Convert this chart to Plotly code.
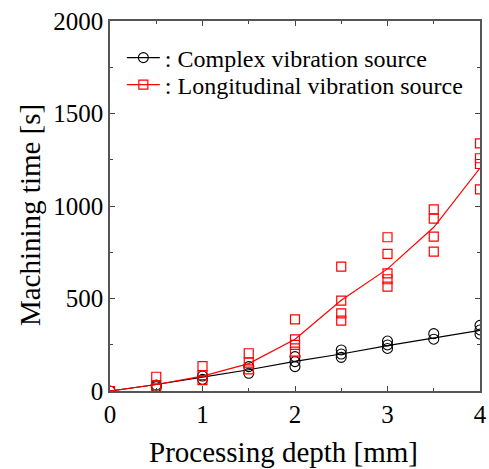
import plotly.graph_objects as go

# Data
depth_levels = [0, 0.5, 1, 1.5, 2, 2.5, 3, 3.5, 4]

complex_x = [0, 0.5, 0.5, 1, 1, 1.5, 1.5, 2, 2, 2, 2.5, 2.5, 2.5, 3, 3, 3, 3.5, 3.5, 4, 4, 4]
complex_y = [0, 32, 23, 81, 63, 132, 96, 186, 159, 132, 222, 200, 182, 270, 249, 230, 310, 280, 355, 330, 308]
complex_fit = [0, 35, 75, 115, 160, 200, 245, 285, 328]

long_x = [0, 0.5, 0.5, 0.5, 1, 1, 1, 1.5, 1.5, 1.5, 2, 2, 2, 2, 2.5, 2.5, 2.5, 2.5,
          3, 3, 3, 3, 3, 3.5, 3.5, 3.5, 3.5, 4, 4, 4, 4]
long_y = [0, 77, 32, 14, 135, 86, 59, 204, 153, 117, 387, 279, 249, 213, 672, 488, 420, 380,
          831, 741, 636, 604, 564, 982, 932, 834, 753, 1339, 1258, 1227, 1090]
long_fit = [0, 35, 80, 148, 280, 490, 660, 885, 1205]

legend_names = [": Complex vibration source", ": Longitudinal vibration source"]
x_title = "Processing depth [mm]"
y_title = "Machining time [s]"

FONT = "Liberation Serif"
RED = "#ff0000"

circle_marker = dict(symbol="circle-open", size=10, color="black",
                     line=dict(width=1.1, color="black"))
square_marker = dict(symbol="square-open", size=9, color=RED,
                     line=dict(width=1.2, color=RED))

fig = go.Figure()

fig.add_trace(go.Scatter(x=depth_levels, y=complex_fit, mode="lines",
                         line=dict(color="black", width=1.2), showlegend=False))
fig.add_trace(go.Scatter(x=depth_levels, y=long_fit, mode="lines",
                         line=dict(color=RED, width=1.2), showlegend=False))
fig.add_trace(go.Scatter(x=complex_x, y=complex_y, mode="markers",
                         marker=circle_marker, showlegend=False))
fig.add_trace(go.Scatter(x=long_x, y=long_y, mode="markers",
                         marker=square_marker, showlegend=False))
# legend entries
fig.add_trace(go.Scatter(x=[None], y=[None], mode="lines+markers", name=legend_names[0],
                         line=dict(color="black", width=1.2), marker=circle_marker,
                         legend="legend"))
fig.add_trace(go.Scatter(x=[None], y=[None], mode="lines+markers", name=legend_names[1],
                         line=dict(color=RED, width=1.2), marker=square_marker,
                         legend="legend2"))

axis_common = dict(
    showgrid=False, zeroline=False, showline=True, linecolor="#555555", linewidth=1.5,
    mirror="ticks", ticks="inside", ticklen=5, tickcolor="#444444", tickwidth=1,
    tickfont=dict(family=FONT, size=25, color="black"), automargin=False,
)

legend_common = dict(xanchor="left", yanchor="middle", bgcolor="rgba(0,0,0,0)",
                     font=dict(family=FONT, size=24, color="black"), itemwidth=33,
                     borderwidth=0)

fig.update_layout(
    width=489, height=469,
    margin=dict(l=110, r=9, t=21, b=78, autoexpand=False),
    paper_bgcolor="white", plot_bgcolor="white",
    font=dict(family=FONT, color="black"),
    xaxis=dict(range=[0, 4], tickvals=[0, 1, 2, 3, 4],
               minor=dict(tickvals=[0.5, 1.5, 2.5, 3.5], ticks="inside", ticklen=3,
                          tickcolor="#444444"),
               **axis_common),
    yaxis=dict(range=[0, 2000], tickvals=[0, 500, 1000, 1500, 2000],
               minor=dict(tickvals=[250, 750, 1250, 1750], ticks="inside", ticklen=3,
                          tickcolor="#444444"),
               **axis_common),
    legend=dict(x=0.032, y=0.900, **legend_common),
    legend2=dict(x=0.032, y=0.827, **legend_common),
    annotations=[
        dict(text=x_title, xref="paper", yref="paper", x=0.4676, y=-0.165,
             xanchor="center", yanchor="middle", showarrow=False,
             font=dict(family=FONT, size=29, color="black")),
        dict(text=y_title, xref="paper", yref="paper", x=-0.216, y=0.4757,
             xanchor="center", yanchor="middle", showarrow=False, textangle=-90,
             font=dict(family=FONT, size=29, color="black")),
    ],
)

fig.write_html("out.html", config={"displayModeBar": False},
               post_script="document.body.style.margin='0';")
